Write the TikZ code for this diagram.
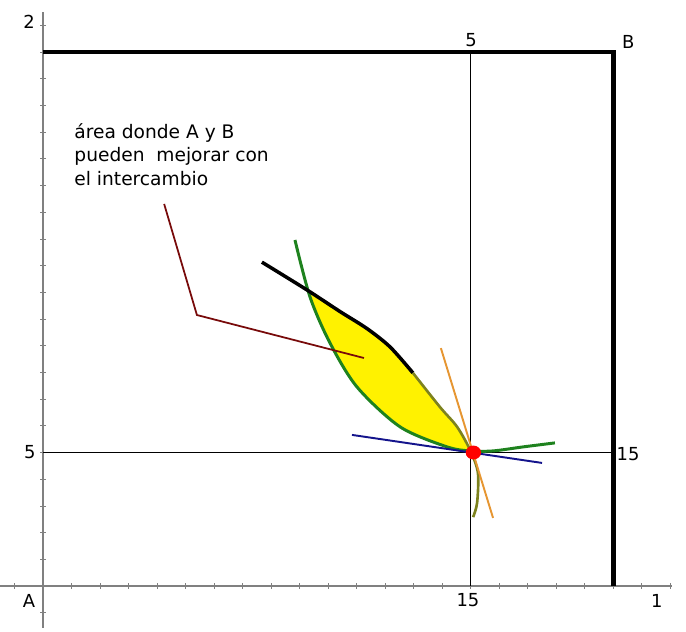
\documentclass[tikz,border=0pt]{standalone}
\usepackage{fontspec}
\setmainfont{DejaVu Sans}
\usetikzlibrary{positioning}

\definecolor{curvaA}{RGB}{30,130,30}
\definecolor{curvaB}{RGB}{125,130,30}
\definecolor{tangA}{RGB}{20,20,140}
\definecolor{tangB}{RGB}{230,150,50}
\definecolor{guia}{RGB}{120,10,10}

\begin{document}
\begin{tikzpicture}[x=0.57cm, y=0.534cm,
    lbl/.style={font=\fontsize{10.2}{12}\selectfont, inner sep=0pt},
    eje/.style={gray, line width=1pt},
    caja/.style={line width=2.8pt, line join=miter}]
  \useasboundingbox (-1.509,-1.685) rectangle (22.56,21.948);

  % Draw axes with ticks
  \draw[eje] (-1.51,0) -- (22.07,0);
  \draw[eje] (0,-1.57) -- (0,21.5);
  \foreach \i in {-1,...,22} {
    \draw[gray] (\i,-0.11) -- (\i,0.11);
  }
  \foreach \j in {-1,...,21} {
    \draw[gray] (-0.1,\j) -- (0.1,\j);
  }

  % Edgeworth box
  \draw[caja] (0,20) -- (20,20) -- (20,0);
  \draw[line width=0.6pt] (15,0) -- (15,20);
  \draw[line width=0.6pt] (0,5) -- (20,5);

  % Labels
  \node[lbl] (dosA) at (-0.49,21.14) {2};
  \node[lbl] (cincoA) at (-0.46,5.02) {5};
  \node[lbl] (origA) at (-0.49,-0.56) {A};
  \node[lbl] (quinceA) at (14.91,-0.53) {15};
  \node[lbl] (unoA) at (21.54,-0.56) {1};
  \node[lbl] (cincoB) at (15.02,20.45) {5};
  \node[lbl] (origB) at (20.53,20.39) {B};
  \node[lbl] (quinceB) at (20.53,4.94) {15};

  % Area of mutual gain
  \fill[yellow] plot[smooth] coordinates {(9.35,10.95) (10.42,10.28) (11.37,9.64) (12.18,8.95) (12.98,7.98) (13.93,6.70) (14.53,5.96) (15.0,5.06)}
    -- plot[smooth] coordinates {(15.0,5.06) (14.18,5.21) (12.53,5.96) (11.02,7.45) (10.07,9.10) (9.35,10.95)} -- cycle;

  % Indifference curves
  \draw[curvaA, line width=1.7pt] plot[smooth] coordinates {(8.84,12.96) (9.37,10.82) (10.07,9.10) (11.02,7.45) (12.53,5.96) (14.18,5.21) (15.0,5.06) (15.79,5.06) (16.84,5.21) (17.96,5.36)};
  \draw[line width=2pt] plot[smooth] coordinates {(7.68,12.13) (9.26,11.09) (10.42,10.28) (11.37,9.64) (12.18,8.95) (12.98,7.98)};
  \draw[curvaB, line width=1.5pt] plot[smooth] coordinates {(12.98,7.98) (13.93,6.70) (14.53,5.96) (15.0,5.06) (15.26,4.23) (15.23,3.11) (15.09,2.58)};

  % Tangent lines
  \draw[tangA, line width=1.1pt] (10.84,5.66) -- (17.51,4.61);
  \draw[tangB, line width=1.1pt] (13.96,8.91) -- (15.79,2.55);

  % Endowment point
  \fill[red] (15.1,5) ellipse [x radius=0.27, y radius=0.26];

  % Note
  \node[lbl, font=\fontsize{10.6}{13.3}\selectfont, anchor=north west, align=left] (nota) at (1.09,17.34) {área donde A y B\\pueden\ \ mejorar con\\el intercambio};
  \coordinate (g1) at (4.25,14.31);
  \coordinate (g2) at (5.40,10.15);
  \coordinate (g3) at (11.26,8.54);
  \draw[guia, line width=1pt] (g1) -- (g2) -- (g3);
\end{tikzpicture}
\end{document}
